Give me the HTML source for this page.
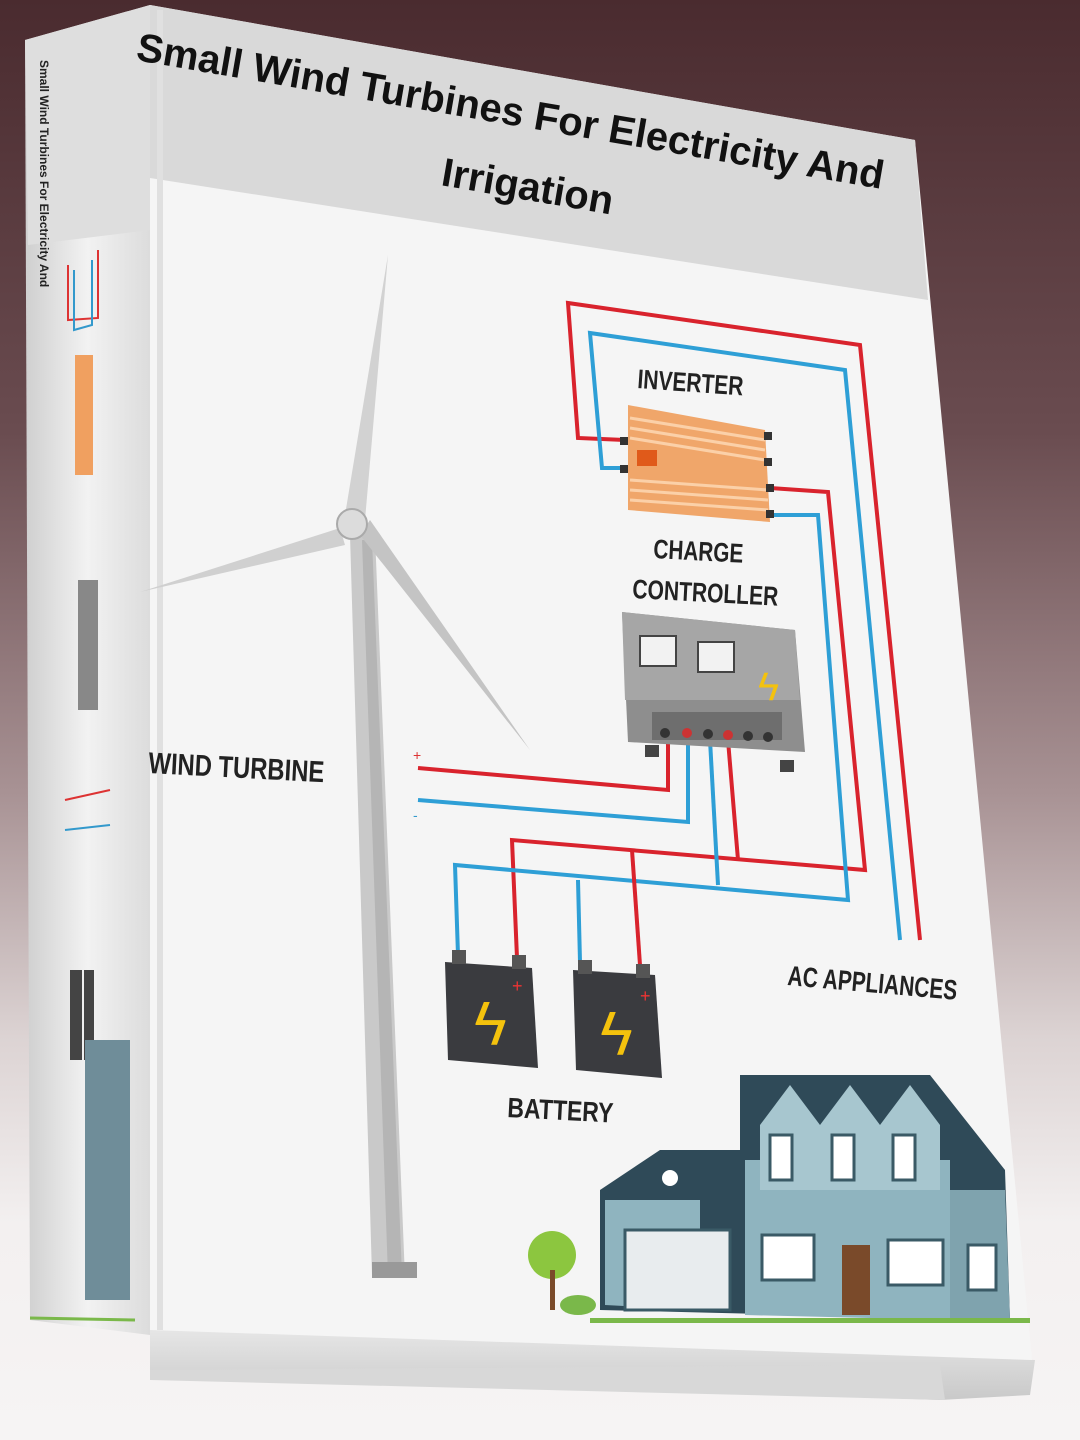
<!DOCTYPE html>
<html><head><meta charset="utf-8"><style>
html,body{margin:0;padding:0;width:1080px;height:1440px;overflow:hidden}
body{background:linear-gradient(180deg,#4a2b2f 0%,#6a4c50 30%,#a89294 55%,#dcd3d3 72%,#f3f0f0 85%,#f6f4f4 100%)}
svg{position:absolute;left:0;top:0}
text{font-family:"Liberation Sans",sans-serif}
</style></head><body>
<svg width="1080" height="1440" viewBox="0 0 1080 1440">
<defs>
<linearGradient id="spine" x1="0" x2="1" y1="0" y2="0"><stop offset="0" stop-color="#cfcfcf"/><stop offset="0.5" stop-color="#f2f2f2"/><stop offset="1" stop-color="#dcdcdc"/></linearGradient>
<linearGradient id="pages" x1="0" x2="0" y1="0" y2="1"><stop offset="0" stop-color="#e8e8e8"/><stop offset="1" stop-color="#c9c9c9"/></linearGradient>
</defs>
<polygon points="150,1325 1035,1360 1030,1395 940,1400 150,1370" fill="url(#pages)"/>
<polygon points="940,1365 945,1400 150,1380 150,1370" fill="#d8d8d8"/>
<polygon points="25,40 150,5 150,1335 30,1320" fill="url(#spine)"/>
<polygon points="25,40 150,5 150,230 28,245" fill="#dedede"/>
<polygon points="150,5 915,140 1032,1360 150,1330" fill="#f5f5f5"/>
<polygon points="150,5 915,140 928,300 150,178" fill="#d9d9d9"/>
<line x1="160" y1="10" x2="160" y2="1330" stroke="#e0e0e0" stroke-width="6"/>
<g transform="rotate(9.8 135 60)"><text x="135" y="60" font-size="40" font-weight="bold" fill="#111">Small Wind Turbines For Electricity And</text></g>
<g transform="rotate(9.8 440 185)"><text x="440" y="185" font-size="40" font-weight="bold" fill="#111">Irrigation</text></g>
<g transform="rotate(90 40 60)"><text x="40" y="60" font-size="12" font-weight="bold" fill="#222">Small Wind Turbines For Electricity And</text></g>
<polyline points="68,265 68,320 98,318 98,250" fill="none" stroke="#d33" stroke-width="2"/>
<polyline points="74,270 74,330 92,325 92,260" fill="none" stroke="#39c" stroke-width="2"/>
<rect x="75" y="355" width="18" height="120" fill="#f0a060"/>
<rect x="78" y="580" width="20" height="130" fill="#888"/>
<rect x="70" y="970" width="12" height="90" fill="#444"/>
<rect x="84" y="970" width="10" height="90" fill="#444"/>
<rect x="85" y="1040" width="45" height="260" fill="#6f8d99"/>
<line x1="65" y1="800" x2="110" y2="790" stroke="#d33" stroke-width="2"/>
<line x1="65" y1="830" x2="110" y2="825" stroke="#39c" stroke-width="2"/>
<line x1="30" y1="1318" x2="135" y2="1320" stroke="#7ab84a" stroke-width="3"/>
<g fill="none" stroke-width="4">
<polyline points="625,440 578,438 568,303 860,345 920,940" stroke="#d9232d"/>
<polyline points="628,468 602,468 590,333 845,370 900,940" stroke="#2e9fd6"/>
<polyline points="770,488 828,492 865,870 512,840 517,958" stroke="#d9232d"/>
<polyline points="772,515 818,515 848,900 455,865 458,955" stroke="#2e9fd6"/>
<polyline points="418,768 668,790 668,740" stroke="#d9232d"/>
<polyline points="418,800 688,822 688,740" stroke="#2e9fd6"/>
<polyline points="710,740 718,885" stroke="#2e9fd6"/>
<polyline points="728,740 738,860" stroke="#d9232d"/>
<polyline points="578,880 580,962" stroke="#2e9fd6"/>
<polyline points="632,850 640,965" stroke="#d9232d"/>
</g>
<text x="413" y="760" font-size="14" fill="#d33">+</text>
<text x="413" y="820" font-size="14" fill="#39c">-</text>
<polygon points="356,535 350,535 372,1275 405,1278 375,535" fill="#c9c9c9"/>
<polygon points="362,540 372,540 402,1275 388,1276" fill="#b5b5b5"/>
<polygon points="345,515 388,255 365,520" fill="#d2d2d2"/>
<polygon points="340,528 140,592 345,545" fill="#d0d0d0"/>
<polygon points="360,535 530,750 370,520" fill="#c4c4c4"/>
<circle cx="352" cy="524" r="15" fill="#dcdcdc" stroke="#aaa" stroke-width="2"/>
<rect x="372" y="1262" width="45" height="16" fill="#999"/>
<polygon points="628,405 765,430 770,522 628,510" fill="#f0a66a"/>
<g stroke="#fbd0a8" stroke-width="3">
<line x1="630" y1="418" x2="765" y2="440"/><line x1="630" y1="428" x2="765" y2="450"/><line x1="630" y1="438" x2="765" y2="460"/>
<line x1="630" y1="480" x2="768" y2="490"/><line x1="630" y1="490" x2="768" y2="500"/><line x1="630" y1="500" x2="768" y2="510"/>
</g>
<rect x="637" y="450" width="20" height="16" fill="#e05a1a"/>
<rect x="620" y="437" width="8" height="8" fill="#333"/><rect x="620" y="465" width="8" height="8" fill="#333"/>
<rect x="764" y="432" width="8" height="8" fill="#333"/><rect x="764" y="458" width="8" height="8" fill="#333"/><rect x="766" y="484" width="8" height="8" fill="#333"/><rect x="766" y="510" width="8" height="8" fill="#333"/>
<text x="637" y="388" font-size="27" font-weight="bold" fill="#222" transform="rotate(4 637 388)" textLength="106" lengthAdjust="spacingAndGlyphs">INVERTER</text>
<text x="653" y="558" font-size="27" font-weight="bold" fill="#222" transform="rotate(3 653 558)" textLength="90" lengthAdjust="spacingAndGlyphs">CHARGE</text>
<text x="632" y="598" font-size="27" font-weight="bold" fill="#222" transform="rotate(3 632 598)" textLength="146" lengthAdjust="spacingAndGlyphs">CONTROLLER</text>
<polygon points="622,612 795,630 805,752 628,742" fill="#8e8e8e"/>
<polygon points="622,612 795,630 800,700 625,700" fill="#a6a6a6"/>
<rect x="640" y="636" width="36" height="30" fill="#f2f2f2" stroke="#444" stroke-width="2"/>
<rect x="698" y="642" width="36" height="30" fill="#f2f2f2" stroke="#444" stroke-width="2"/>
<text x="758" y="700" font-size="40" fill="#f4c20d">ϟ</text>
<rect x="652" y="712" width="130" height="28" fill="#6e6e6e"/>
<g fill="#333"><circle cx="665" cy="733" r="5"/><circle cx="687" cy="733" r="5" fill="#c33"/><circle cx="708" cy="734" r="5"/><circle cx="728" cy="735" r="5" fill="#c33"/><circle cx="748" cy="736" r="5"/><circle cx="768" cy="737" r="5"/></g>
<rect x="645" y="745" width="14" height="12" fill="#444"/><rect x="780" y="760" width="14" height="12" fill="#444"/>
<text x="148" y="773" font-size="30" font-weight="bold" fill="#222" transform="rotate(3 148 773)" textLength="176" lengthAdjust="spacingAndGlyphs">WIND TURBINE</text>
<text x="787" y="985" font-size="28" font-weight="bold" fill="#222" transform="rotate(5 787 985)" textLength="170" lengthAdjust="spacingAndGlyphs">AC APPLIANCES</text>
<text x="507" y="1117" font-size="28" font-weight="bold" fill="#222" transform="rotate(3 507 1117)" textLength="106" lengthAdjust="spacingAndGlyphs">BATTERY</text>
<polygon points="445,962 532,968 538,1068 448,1060" fill="#3a3b3f"/>
<rect x="452" y="950" width="14" height="14" fill="#555"/><rect x="512" y="955" width="14" height="14" fill="#555"/>
<text x="474" y="1045" font-size="62" fill="#f4c20d">ϟ</text>
<polygon points="573,970 655,975 662,1078 576,1070" fill="#3a3b3f"/>
<rect x="578" y="960" width="14" height="14" fill="#555"/><rect x="636" y="964" width="14" height="14" fill="#555"/>
<text x="600" y="1055" font-size="62" fill="#f4c20d">ϟ</text>
<text x="512" y="992" font-size="18" fill="#e33">+</text><text x="640" y="1002" font-size="18" fill="#e33">+</text>
<polygon points="740,1075 930,1075 1005,1170 1010,1320 600,1310 600,1190 660,1150 740,1150" fill="#2f4a58"/>
<polygon points="605,1200 700,1200 700,1310 605,1305" fill="#8fb4bf"/>
<polygon points="745,1160 950,1160 950,1320 745,1315" fill="#8fb4bf"/>
<polygon points="950,1190 1005,1190 1010,1320 950,1320" fill="#7fa3ae"/>
<polygon points="760,1125 790,1085 820,1125 820,1190 760,1190" fill="#a7c6cf"/>
<polygon points="820,1125 850,1085 880,1125 880,1190 820,1190" fill="#a7c6cf"/>
<polygon points="880,1125 910,1085 940,1125 940,1190 880,1190" fill="#a7c6cf"/>
<rect x="770" y="1135" width="22" height="45" fill="#fff" stroke="#3a5a66" stroke-width="3"/>
<rect x="832" y="1135" width="22" height="45" fill="#fff" stroke="#3a5a66" stroke-width="3"/>
<rect x="893" y="1135" width="22" height="45" fill="#fff" stroke="#3a5a66" stroke-width="3"/>
<rect x="625" y="1230" width="105" height="80" fill="#e8ecee" stroke="#3a5a66" stroke-width="3"/>
<rect x="762" y="1235" width="52" height="45" fill="#fff" stroke="#3a5a66" stroke-width="3"/>
<rect x="842" y="1245" width="28" height="70" fill="#7a4a2a"/>
<rect x="888" y="1240" width="55" height="45" fill="#fff" stroke="#3a5a66" stroke-width="3"/>
<rect x="968" y="1245" width="28" height="45" fill="#fff" stroke="#3a5a66" stroke-width="3"/>
<circle cx="670" cy="1178" r="8" fill="#fff"/>
<rect x="590" y="1318" width="440" height="5" fill="#7ab84a"/>
<circle cx="552" cy="1255" r="24" fill="#8cc63f"/>
<rect x="550" y="1270" width="5" height="40" fill="#7a4a2a"/>
<ellipse cx="578" cy="1305" rx="18" ry="10" fill="#7ab84a"/>
</svg>
</body></html>
